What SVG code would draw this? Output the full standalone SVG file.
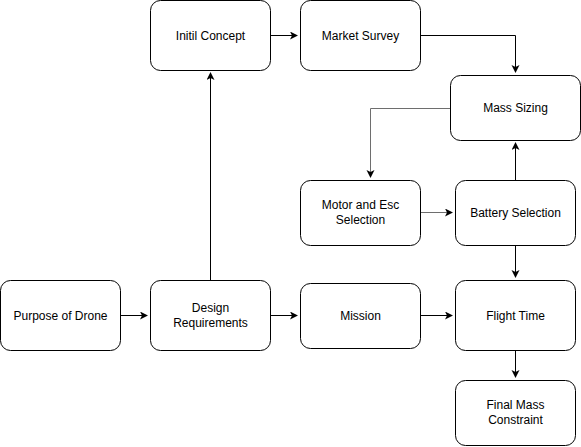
<svg xmlns="http://www.w3.org/2000/svg" width="581" height="447" viewBox="0 0 581 447">
<style>
.n rect{fill:#fff;stroke:#000;stroke-width:1}
.n text{font-family:"Liberation Sans",Arial,sans-serif;font-size:12px;fill:#000;text-anchor:middle}
.e path{fill:none;stroke:#000;stroke-width:1}
.e path.g{stroke:#6e6e6e}
</style>
<defs>
<marker id="a" markerWidth="10" markerHeight="10" refX="7" refY="4" orient="auto" markerUnits="userSpaceOnUse">
<path d="M0,0 L8,4 L0,8 L2,4 Z" fill="#000"/>
</marker>
</defs>
<rect width="581" height="447" fill="#fff"/>
<g class="e">
<path d="M270.5,35.5 H297" marker-end="url(#a)"/>
<path d="M420.5,35.5 H515.5 V72" marker-end="url(#a)"/>
<path class="g" d="M450.5,108.5 H370.5 V177" marker-end="url(#a)"/>
<path class="g" d="M420.5,212.5 H452" marker-end="url(#a)"/>
<path d="M515.5,180.5 V143" marker-end="url(#a)"/>
<path d="M515.5,245.5 V277" marker-end="url(#a)"/>
<path d="M120.5,315.5 H147" marker-end="url(#a)"/>
<path d="M210.5,280.5 V73" marker-end="url(#a)"/>
<path d="M270.5,315.5 H297" marker-end="url(#a)"/>
<path d="M420.5,315.5 H452" marker-end="url(#a)"/>
<path d="M515.5,350.5 V377" marker-end="url(#a)"/>
</g>
<g id="initil" class="n"><rect x="150.5" y="0.5" width="120" height="70" rx="10"/><text x="210.5" y="39.5">Initil Concept</text></g>
<g id="market" class="n"><rect x="300.5" y="0.5" width="120" height="70" rx="10"/><text x="360.5" y="39.5">Market Survey</text></g>
<g id="mass" class="n"><rect x="450.5" y="75.5" width="130" height="65" rx="10"/><text x="515.5" y="112">Mass Sizing</text></g>
<g id="motor" class="n"><rect x="300.5" y="180.5" width="120" height="65" rx="10"/><text x="360.5" y="209">Motor and Esc</text><text x="360.5" y="224">Selection</text></g>
<g id="battery" class="n"><rect x="455.5" y="180.5" width="120" height="65" rx="10"/><text x="515.5" y="217">Battery Selection</text></g>
<g id="purpose" class="n"><rect x="0.5" y="280.5" width="120" height="70" rx="10"/><text x="60.5" y="319.5">Purpose of Drone</text></g>
<g id="design" class="n"><rect x="150.5" y="280.5" width="120" height="70" rx="10"/><text x="210.5" y="312">Design</text><text x="210.5" y="327">Requirements</text></g>
<g id="mission" class="n"><rect x="300.5" y="283.5" width="120" height="65" rx="10"/><text x="360.5" y="319.5">Mission</text></g>
<g id="flight" class="n"><rect x="455.5" y="280.5" width="120" height="70" rx="10"/><text x="515.5" y="319.5">Flight Time</text></g>
<g id="final" class="n"><rect x="455.5" y="380.5" width="120" height="65" rx="10"/><text x="515.5" y="409">Final Mass</text><text x="515.5" y="424">Constraint</text></g>
</svg>
